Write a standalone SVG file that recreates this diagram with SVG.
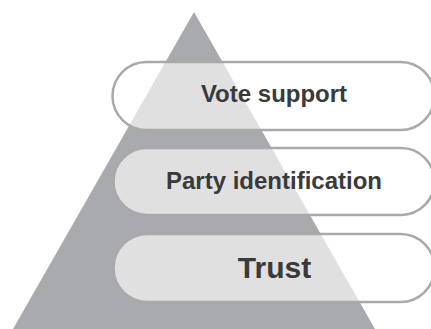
<svg xmlns="http://www.w3.org/2000/svg" width="431" height="329" viewBox="0 0 431 329">
<style>
.pill{fill:#ffffff;fill-opacity:0.64;stroke:#a9a9ab;stroke-width:2.5}
.lbl{font-family:"Liberation Sans",Arial,sans-serif;font-weight:bold;fill:#3a3a3b;text-anchor:middle}
</style>
<rect width="431" height="329" fill="#ffffff"/>
<polygon id="pyramid" points="194,12 13,329 375,329" fill="#a9aaad"/>
<g id="vote-support">
<rect class="pill" x="112.5" y="62" width="322" height="68" rx="34"/>
<text class="lbl" x="274" y="102" font-size="24">Vote support</text>
</g>
<g id="party-identification">
<rect class="pill" x="113.5" y="148" width="321" height="67" rx="33.5"/>
<text class="lbl" x="274" y="189" font-size="24">Party identification</text>
</g>
<g id="trust">
<rect class="pill" x="113.5" y="234" width="321" height="68" rx="34"/>
<text class="lbl" x="274.5" y="278" font-size="30">Trust</text>
</g>
<g id="connectors"/>
</svg>
